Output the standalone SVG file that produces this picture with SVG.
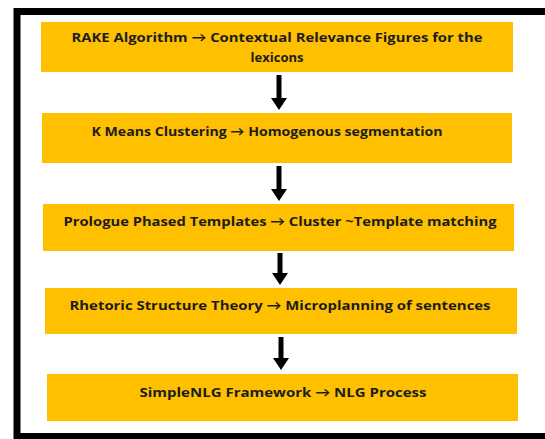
<svg xmlns="http://www.w3.org/2000/svg" width="545" height="439" viewBox="0 0 545 439">
  <style>
    .box { fill: #FFC000; }
    .label { font-family: "Open Sans", Lato, "Liberation Sans", sans-serif; font-weight: bold; font-size: 13px; fill: #1c1c1c; text-anchor: middle; }
    .shaft { stroke: #000; stroke-width: 5; }
    .tip { fill: #000; }
  </style>
  <rect x="0" y="0" width="545" height="439" fill="#fff"/>
  <!-- outer frame -->
  <rect x="17" y="11.5" width="545" height="425" fill="none" stroke="#000" stroke-width="7"/>

  <g id="n1">
    <rect class="box" x="41" y="22" width="472" height="50"/>
    <text class="label" x="277" y="42" textLength="411" lengthAdjust="spacingAndGlyphs">RAKE Algorithm → Contextual  Relevance Figures for the</text>
    <text class="label" x="277" y="62">lexicons</text>
  </g>
  <g id="n2">
    <rect class="box" x="42" y="113" width="470" height="50"/>
    <text class="label" x="267" y="136" textLength="351" lengthAdjust="spacingAndGlyphs">K Means Clustering → Homogenous segmentation</text>
  </g>
  <g id="n3">
    <rect class="box" x="43" y="204" width="471" height="47"/>
    <text class="label" x="280" y="226" textLength="433" lengthAdjust="spacingAndGlyphs">Prologue Phased Templates → Cluster ~Template matching</text>
  </g>
  <g id="n4">
    <rect class="box" x="45" y="288" width="472" height="46"/>
    <text class="label" x="280" y="310" textLength="421" lengthAdjust="spacingAndGlyphs">Rhetoric Structure Theory  → Microplanning of sentences</text>
  </g>
  <g id="n5">
    <rect class="box" x="47" y="374" width="471" height="47"/>
    <text class="label" x="283" y="397" textLength="287" lengthAdjust="spacingAndGlyphs">SimpleNLG Framework  → NLG Process</text>
  </g>

  <g id="connectors">
    <line class="shaft" x1="279" y1="75" x2="279" y2="99"/>
    <path class="tip" d="M271 98 L287 98 L279 110 Z"/>
    <line class="shaft" x1="279" y1="166" x2="279" y2="190"/>
    <path class="tip" d="M271 189 L287 189 L279 201 Z"/>
    <line class="shaft" x1="280" y1="253" x2="280" y2="274"/>
    <path class="tip" d="M272 273 L288 273 L280 285 Z"/>
    <line class="shaft" x1="281" y1="337" x2="281" y2="359"/>
    <path class="tip" d="M273 358 L289 358 L281 370 Z"/>
  </g>
</svg>
